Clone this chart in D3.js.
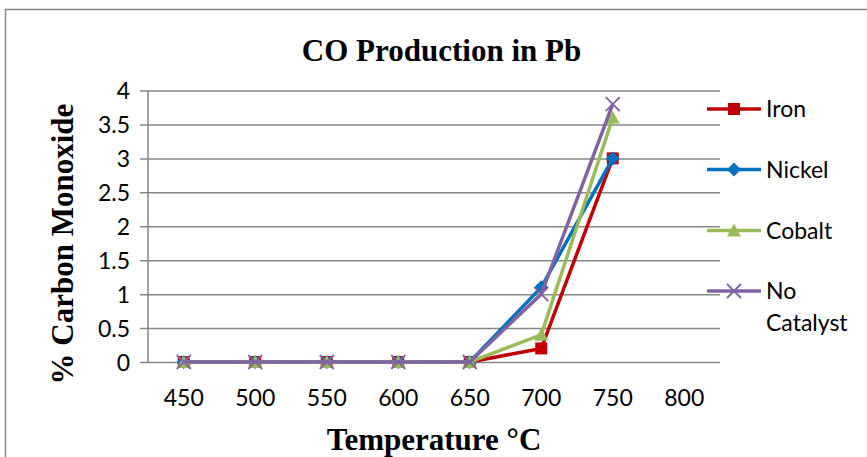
<!DOCTYPE html>
<html>
<head>
<meta charset="utf-8">
<script src="https://cdn.jsdelivr.net/npm/d3@7"></script>
<style>
  html, body { margin: 0; padding: 0; background: #fff; }
  svg { display: block; }
</style>
</head>
<body>
<svg id="chart" width="867" height="457"></svg>
<script>
// Temperatures on the category axis
const temperatures = ["450", "500", "550", "600", "650", "700", "750", "800"];

// % carbon monoxide per catalyst (no reading at 800 °C)
const ironValues      = [0, 0, 0, 0, 0, 0.2, 3.0];
const nickelValues    = [0, 0, 0, 0, 0, 1.1, 3.0];
const cobaltValues    = [0, 0, 0, 0, 0, 0.4, 3.6];
const noCatalystValues = [0, 0, 0, 0, 0, 1.0, 3.8];

const seriesNames = ["Iron", "Nickel", "Cobalt", "No Catalyst"];
const yTicks = [0, 0.5, 1, 1.5, 2, 2.5, 3, 3.5, 4];
const yTickLabels = ["0", "0.5", "1", "1.5", "2", "2.5", "3", "3.5", "4"];

const series = [
  { name: seriesNames[0], values: ironValues,       color: "#C00000", marker: "square" },
  { name: seriesNames[1], values: nickelValues,     color: "#0070C0", marker: "diamond" },
  { name: seriesNames[2], values: cobaltValues,     color: "#9BBB59", marker: "triangle" },
  { name: seriesNames[3], values: noCatalystValues, color: "#8064A2", marker: "x" }
];

const svg = d3.select("#chart");
const gridColor = "#868686";
const tickFont = "Lato, 'Open Sans', sans-serif";
const serifBold = "'Liberation Serif', 'Times New Roman', serif";

const plot = { left: 148, right: 720, top: 90.5, bottom: 362 };

// Outer chart frame
svg.append("rect")
  .attr("x", 5.5).attr("y", 9.5)
  .attr("width", 920).attr("height", 520)
  .attr("fill", "none")
  .attr("stroke", gridColor)
  .attr("stroke-width", 1.5);

const x = d3.scaleBand().domain(temperatures).range([plot.left, plot.right]).padding(0);
const xc = t => x(t) + x.bandwidth() / 2;
const y = d3.scaleLinear().domain([0, 4]).range([plot.bottom, plot.top]);

// Horizontal gridlines and the value axis
const yAxis = d3.axisLeft(y)
  .tickValues(yTicks)
  .tickFormat((d, i) => yTickLabels[i])
  .tickSize(-(plot.right - plot.left))
  .tickPadding(18);

const gy = svg.append("g")
  .attr("transform", `translate(${plot.left},0)`)
  .call(yAxis);
gy.select(".domain").remove();
gy.selectAll(".tick line")
  .attr("x1", -8)
  .attr("stroke", gridColor)
  .attr("stroke-width", 1.5);
gy.selectAll(".tick text")
  .attr("font-family", tickFont)
  .attr("font-size", 23)
  .attr("fill", "#000")
  .attr("dy", "0.36em");

// Vertical axis line
svg.append("line")
  .attr("x1", plot.left).attr("x2", plot.left)
  .attr("y1", plot.top).attr("y2", plot.bottom)
  .attr("stroke", gridColor).attr("stroke-width", 1.5);

// Category axis labels
const xAxis = d3.axisBottom(x).tickSize(0).tickPadding(30);
const gx = svg.append("g")
  .attr("transform", `translate(0,${plot.bottom})`)
  .call(xAxis);
gx.select(".domain").remove();
gx.selectAll(".tick text")
  .attr("font-family", tickFont)
  .attr("font-size", 23)
  .attr("fill", "#000")
  .attr("dy", "0.6em");

// Marker shapes
function drawMarker(g, type, color, cx, cy, scale) {
  const s = scale || 1;
  if (type === "square") {
    const h = 6 * s;
    g.append("rect").attr("x", cx - h).attr("y", cy - h)
      .attr("width", 2 * h).attr("height", 2 * h).attr("fill", color);
  } else if (type === "diamond") {
    const h = 7 * s;
    g.append("path")
      .attr("d", `M${cx},${cy - h}L${cx + h},${cy}L${cx},${cy + h}L${cx - h},${cy}Z`)
      .attr("fill", color);
  } else if (type === "triangle") {
    const h = 7 * s;
    g.append("path")
      .attr("d", `M${cx},${cy - h}L${cx + h},${cy + h * 0.85}L${cx - h},${cy + h * 0.85}Z`)
      .attr("fill", color);
  } else if (type === "x") {
    const h = 7 * s;
    g.append("path")
      .attr("d", `M${cx - h},${cy - h}L${cx + h},${cy + h}M${cx - h},${cy + h}L${cx + h},${cy - h}`)
      .attr("stroke", color).attr("stroke-width", 1.8).attr("fill", "none");
  }
}

// Series lines and markers
const line = d3.line()
  .x((d, i) => xc(temperatures[i]))
  .y(d => y(d));

const marks = svg.append("g");
series.forEach(s => {
  const g = marks.append("g");
  g.append("path")
    .datum(s.values)
    .attr("d", line)
    .attr("fill", "none")
    .attr("stroke", s.color)
    .attr("stroke-width", 3.5)
    .attr("stroke-linejoin", "round");
  s.values.forEach((v, i) => drawMarker(g, s.marker, s.color, xc(temperatures[i]), y(v)));
});

// Legend
const legend = svg.append("g");
const legendRowY = [109, 169.5, 230.5, 291];
series.forEach((s, i) => {
  const ry = legendRowY[i];
  const g = legend.append("g");
  g.append("line")
    .attr("x1", 707).attr("x2", 761)
    .attr("y1", ry).attr("y2", ry)
    .attr("stroke", s.color).attr("stroke-width", 3.5);
  drawMarker(g, s.marker, s.color, 734, ry);
  const txt = g.append("text")
    .attr("x", 766).attr("y", ry + 8)
    .attr("font-family", tickFont)
    .attr("font-size", 23)
    .attr("fill", "#000");
  const words = i === 3 ? ["No", "Catalyst"] : [s.name];
  words.forEach((w, k) => {
    txt.append("tspan").attr("x", 766).attr("dy", k === 0 ? 0 : 32).text(w);
  });
});

// Titles
svg.append("text")
  .attr("x", 441.5).attr("y", 60.5)
  .attr("text-anchor", "middle")
  .attr("font-family", serifBold)
  .attr("font-weight", "bold")
  .attr("font-size", 31)
  .text("CO Production in Pb");

svg.append("text")
  .attr("x", 434).attr("y", 450)
  .attr("text-anchor", "middle")
  .attr("font-family", serifBold)
  .attr("font-weight", "bold")
  .attr("font-size", 31)
  .text("Temperature °C");

svg.append("text")
  .attr("transform", "translate(73,244) rotate(-90)")
  .attr("text-anchor", "middle")
  .attr("font-family", serifBold)
  .attr("font-weight", "bold")
  .attr("font-size", 31)
  .text("% Carbon Monoxide");
</script>
</body>
</html>
